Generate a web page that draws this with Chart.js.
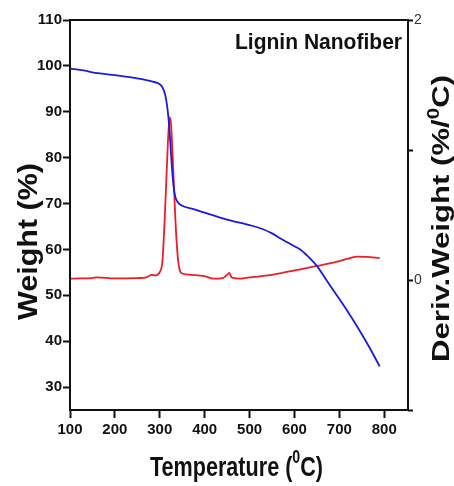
<!DOCTYPE html>
<html>
<head>
<meta charset="utf-8">
<script src="https://cdn.jsdelivr.net/npm/chart.js@4.4.0/dist/chart.umd.min.js"></script>
<style>
  html, body { margin: 0; padding: 0; background: #fff; }
  #wrap { width: 454px; height: 486px; }
</style>
</head>
<body>
<div id="wrap"><canvas id="tgaChart"></canvas></div>
<script>
// TGA weight curve (blue)
const weightTemps = [100, 130, 162, 200, 237, 260, 282, 300, 306, 312, 316, 319, 323, 327, 331, 335, 340, 350, 375, 400, 450, 500, 530, 550, 572, 600, 613, 630, 650, 670, 695, 715, 739, 765, 790];
const weightValues = [99.4, 99.0, 98.4, 98.0, 97.5, 97.1, 96.6, 96.0, 95.3, 93.7, 91.5, 89.0, 84.0, 78.0, 73.5, 71.3, 70.3, 69.5, 68.8, 68.0, 66.5, 65.3, 64.4, 63.5, 62.2, 60.7, 60.0, 58.5, 56.4, 53.5, 49.9, 47.0, 43.3, 39.0, 34.5];

// DTG derivative curve (red)
const derivTemps = [100, 120, 150, 160, 200, 250, 270, 282, 290, 300, 306, 312, 318, 322, 325, 330, 335, 340, 345, 350, 370, 400, 420, 440, 450, 455, 460, 480, 500, 540, 575, 610, 650, 695, 720, 740, 760, 790];
const derivValues = [0.01, 0.012, 0.015, 0.02, 0.012, 0.015, 0.02, 0.04, 0.035, 0.06, 0.15, 0.55, 1.05, 1.25, 1.2, 0.85, 0.45, 0.18, 0.07, 0.05, 0.04, 0.03, 0.01, 0.015, 0.04, 0.055, 0.02, 0.01, 0.02, 0.035, 0.056, 0.08, 0.108, 0.141, 0.165, 0.18, 0.178, 0.168];

// tick labels
const tempTicks = [100, 200, 300, 400, 500, 600, 700, 800];
const weightTicks = [30, 40, 50, 60, 70, 80, 90, 100, 110];
const derivTicks = [-1, 0, 1, 2];
const derivLabels = ['', '0', '', '2'];

const FONT = '"Liberation Sans", Arial, sans-serif';

// draws a line of text (with optional superscript parts) stretched to a given length / cap height
const drawRich = (ctx, parts, cx, cy, size, len, cap, rot) => {
    ctx.save();
    ctx.translate(cx, cy);
    ctx.rotate(rot);
    let w = 0;
    const widths = parts.map(p => {
        ctx.font = `bold ${p.sup ? size * 0.66 : size}px ${FONT}`;
        const m = ctx.measureText(p.text).width;
        w += m;
        return m;
    });
    ctx.scale(len / w, cap / (size * 0.716));
    ctx.fillStyle = '#111';
    ctx.textBaseline = 'alphabetic';
    ctx.textAlign = 'left';
    let x = -w / 2;
    const base = size * 0.716 / 2;
    parts.forEach((p, i) => {
        ctx.font = `bold ${p.sup ? size * 0.66 : size}px ${FONT}`;
        ctx.fillText(p.text, x, p.sup ? base - size * 0.44 : base);
        x += widths[i];
    });
    ctx.restore();
};

const frameAndTitles = {
    id: 'frameAndTitles',
    afterDraw(chart) {
        const { ctx, chartArea: a } = chart;
        ctx.save();
        ctx.strokeStyle = '#111';
        ctx.lineWidth = 2;
        ctx.strokeRect(a.left, a.top, a.right - a.left, a.bottom - a.top);
        ctx.restore();

        drawRich(ctx, [{ text: 'Lignin Nanofiber' }], 318.5, 41, 22, 167, 16, 0);
        drawRich(ctx, [{ text: 'Temperature (' }, { text: '0', sup: true }, { text: 'C)' }], 236.5, 465.5, 20, 173, 20, 0);
        drawRich(ctx, [{ text: 'Weight (%)' }], 27, 241.5, 28, 157, 20, -Math.PI / 2);
        drawRich(ctx, [{ text: 'Deriv.Weight (%/' }, { text: '0', sup: true }, { text: 'C)' }], 440.5, 218.5, 24, 287, 17, -Math.PI / 2);
    }
};

const ctx = document.getElementById('tgaChart').getContext('2d');

new Chart(ctx, {
    type: 'line',
    data: {
        datasets: [{
            label: 'Weight',
            data: weightTemps.map((t, i) => ({ x: t, y: weightValues[i] })),
            borderColor: '#1a1ae6',
            borderWidth: 1.8,
            pointRadius: 0,
            cubicInterpolationMode: 'monotone',
            yAxisID: 'y'
        }, {
            label: 'Deriv. Weight',
            data: derivTemps.map((t, i) => ({ x: t, y: derivValues[i] })),
            borderColor: '#ee1c24',
            borderWidth: 1.8,
            pointRadius: 0,
            cubicInterpolationMode: 'monotone',
            yAxisID: 'y2'
        }]
    },
    options: {
        responsive: true,
        maintainAspectRatio: false,
        animation: false,
        layout: {
            padding: { left: 0, right: 0, top: 20, bottom: 0 }
        },
        scales: {
            x: {
                type: 'linear',
                min: 100,
                max: 853,
                afterBuildTicks: s => { s.ticks = tempTicks.map(v => ({ value: v })); },
                afterFit: s => { s.height = 76; },
                border: { display: false },
                grid: { drawOnChartArea: false, tickLength: 8, color: '#111', tickWidth: 2 },
                ticks: {
                    color: '#111',
                    padding: 3,
                    maxRotation: 0,
                    font: { family: FONT, size: 15, weight: 'bold' }
                }
            },
            y: {
                position: 'left',
                min: 25,
                max: 110,
                afterBuildTicks: s => { s.ticks = weightTicks.map(v => ({ value: v })); },
                afterFit: s => { s.width = 70; },
                border: { display: false },
                grid: { drawOnChartArea: false, tickLength: 7, color: '#111', tickWidth: 2 },
                ticks: {
                    color: '#111',
                    padding: 1,
                    font: { family: FONT, size: 15, weight: 'bold' }
                }
            },
            y2: {
                position: 'right',
                min: -1,
                max: 2,
                afterBuildTicks: s => { s.ticks = derivTicks.map(v => ({ value: v })); },
                afterFit: s => { s.width = 46; },
                border: { display: false },
                grid: { drawOnChartArea: false, tickLength: 5, color: '#111', tickWidth: 2 },
                ticks: {
                    color: '#333',
                    padding: 1,
                    callback: (v, i) => derivLabels[i],
                    font: { family: FONT, size: 14 }
                }
            }
        },
        plugins: {
            legend: { display: false },
            tooltip: { enabled: false }
        }
    },
    plugins: [frameAndTitles]
});
</script>
</body>
</html>
